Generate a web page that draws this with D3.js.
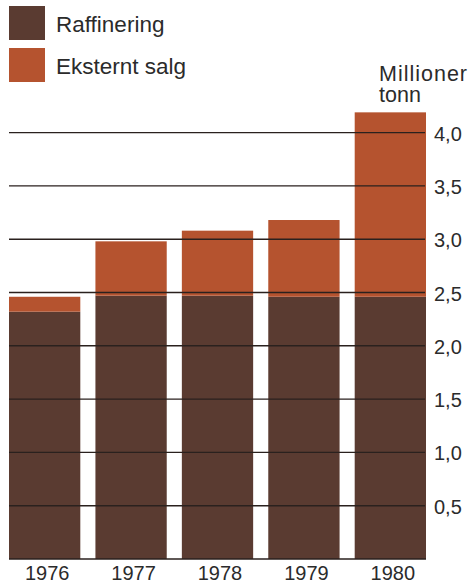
<!DOCTYPE html>
<html><head><meta charset="utf-8">
<script src="https://cdn.jsdelivr.net/npm/d3@7"></script>
<style>body{margin:0;background:#fff}svg{display:block}text{font-family:"Liberation Sans",Arial,sans-serif;fill:#2b2b2b}</style>
</head><body><svg id="c" width="469" height="583"></svg>
<script>
const years = ["1976","1977","1978","1979","1980"];
const raffinering = [2.32, 2.47, 2.47, 2.46, 2.46];
const eksterntSalg = [0.14, 0.51, 0.61, 0.72, 1.73];
const ticks = [0.5,1.0,1.5,2.0,2.5,3.0,3.5,4.0];
const seriesNames = ["Raffinering","Eksternt salg"];
const colors = ["#5a3b31","#b5532f"];

const svg = d3.select("#c");
const x = d3.scaleBand().domain(years).range([9,426]).paddingInner(0.175).paddingOuter(0);
const y = d3.scaleLinear().domain([0,4]).range([559,132.6]);

const data = years.map((yr,i)=>({year:yr, Raffinering:raffinering[i], "Eksternt salg":eksterntSalg[i]}));
const stack = d3.stack().keys(seriesNames)(data);

svg.append("g").selectAll("g").data(stack).join("g").attr("fill",(d,i)=>colors[i])
  .selectAll("rect").data(d=>d).join("rect")
  .attr("x",d=>x(d.data.year)).attr("width",x.bandwidth())
  .attr("y",d=>y(d[1])).attr("height",d=>y(d[0])-y(d[1]));

// gridlines over bars
svg.append("g").selectAll("line").data(ticks).join("line")
  .attr("x1",9).attr("x2",425).attr("y1",d=>y(d)).attr("y2",d=>y(d))
  .attr("stroke","#2a211e").attr("stroke-width",1.4);
svg.append("line").attr("x1",9).attr("x2",426).attr("y1",y(0)).attr("y2",y(0))
  .attr("stroke","#2a211e").attr("stroke-width",1.6);

// right axis labels
const fmt = d=>d3.format(".1f")(d).replace(".",",");
svg.append("g").selectAll("text").data(ticks).join("text")
  .attr("x",434).attr("y",d=>y(d)+8).attr("font-size",20).text(fmt);

svg.append("text").attr("x",379).attr("y",81).attr("font-size",21.5).attr("textLength",88).text("Millioner");
svg.append("text").attr("x",379).attr("y",101.5).attr("font-size",21.5).text("tonn");

// year labels
svg.append("g").selectAll("text").data(years).join("text")
  .attr("x",d=>x(d)+x.bandwidth()/2+2.5).attr("y",580).attr("text-anchor","middle")
  .attr("font-size",20).text(d=>d);

// legend
const lg = svg.append("g").selectAll("g").data(seriesNames).join("g")
  .attr("transform",(d,i)=>`translate(9,${6+i*42})`);
lg.append("rect").attr("width",36).attr("height",34).attr("fill",(d,i)=>colors[i]);
lg.append("text").attr("x",47).attr("y",25.5).attr("font-size",22.5).text(d=>d);
</script></body></html>
